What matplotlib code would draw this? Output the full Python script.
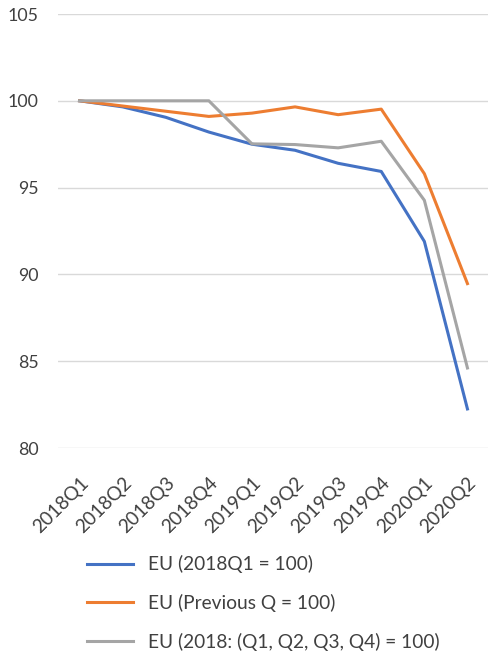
import matplotlib
matplotlib.use('Agg')
import matplotlib.pyplot as plt

quarters = ['2018Q1', '2018Q2', '2018Q3', '2018Q4', '2019Q1', '2019Q2',
            '2019Q3', '2019Q4', '2020Q1', '2020Q2']
eu_base2018q1 = [100.0, 99.65, 99.05, 98.2, 97.5, 97.15, 96.4, 95.93, 91.9, 82.25]
eu_prevq = [100.0, 99.7, 99.4, 99.1, 99.29, 99.65, 99.2, 99.52, 95.8, 89.47]
eu_base2018 = [100.0, 100.0, 100.0, 100.0, 97.52, 97.48, 97.29, 97.67, 94.27, 84.61]

labels = ['EU (2018Q1 = 100)', 'EU (Previous Q = 100)', 'EU (2018: (Q1, Q2, Q3, Q4) = 100)']
colors = ['#4472C4', '#ED7D31', '#A5A5A5']

plt.rcParams['font.family'] = ['Lato', 'DejaVu Sans']

fig = plt.figure(figsize=(4.89, 6.59), dpi=100)
ax = fig.add_axes([58/489, 1 - 448/659, 1 - 58/489, (448 - 14)/659])

x = range(len(quarters))
for ys, lab, c in zip([eu_base2018q1, eu_prevq, eu_base2018], labels, colors):
    ax.plot(x, ys, color=c, lw=2.2, label=lab, solid_joinstyle='round')

ax.set_xlim(-0.5, len(quarters) - 0.5)
ax.set_ylim(80, 105)
ax.set_yticks([80, 85, 90, 95, 100, 105])
ax.set_xticks(list(x))
ax.set_xticklabels(quarters, rotation=45, ha='right', rotation_mode='anchor')
ax.tick_params(axis='both', length=0, colors='#404040')
ax.tick_params(axis='y', pad=14, labelsize=12.8)
ax.tick_params(axis='x', pad=19, labelsize=13.8)
ax.grid(axis='y', color='#d9d9d9', lw=1)
ax.set_axisbelow(True)
for s in ax.spines.values():
    s.set_visible(False)

leg = fig.legend(loc='upper left', bbox_to_anchor=(70/489, 1 - 538/659), frameon=False,
                 fontsize=13.8, handlelength=2.4, labelspacing=1.08, handletextpad=0.78)
for t in leg.get_texts():
    t.set_color('#404040')

fig.savefig('out.png', dpi=100)
